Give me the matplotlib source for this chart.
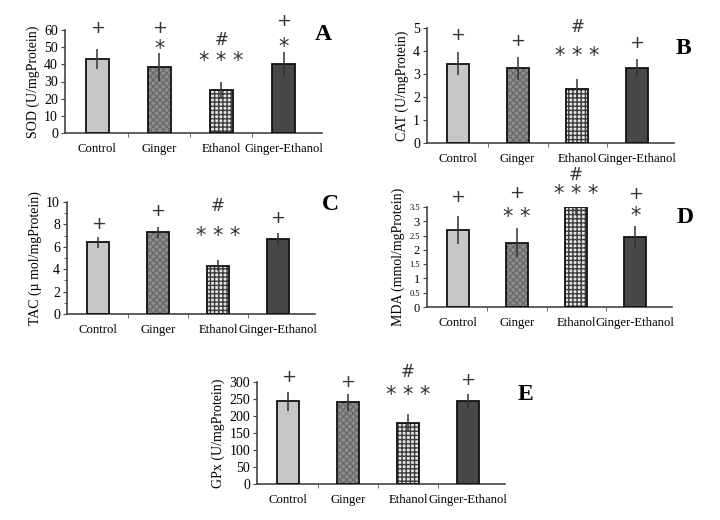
import numpy as np
import matplotlib
matplotlib.use('Agg')
import matplotlib.pyplot as plt

plt.rcParams['font.family'] = ['Liberation Serif', 'DejaVu Serif']

groups = ['Control', 'Ginger', 'Ethanol', 'Ginger-Ethanol']

# mean values and error
sod = [43, 38.5, 25, 40]
sod_err = [6, 8, 5, 7]
cat = [3.45, 3.25, 2.35, 3.25]
cat_err = [0.5, 0.5, 0.45, 0.4]
tac = [6.4, 7.3, 4.3, 6.7]
tac_err = [0.5, 0.5, 0.5, 0.5]
mda = [2.7, 2.25, 3.5, 2.45]
mda_err = [0.5, 0.5, 0.25, 0.4]
gpx = [243, 240, 180, 243]
gpx_err = [28, 25, 27, 22]

# significance marks above each bar: (text, y)
sod_marks = [[('+', 61)], [('+', 61), ('*', 49)], [('#', 54), ('***', 42)], [('+', 65), ('*', 50)]]
cat_marks = [[('+', 4.7)], [('+', 4.45)], [('#', 5.05), ('***', 3.8)], [('+', 4.35)]]
tac_marks = [[('+', 8.0)], [('+', 9.2)], [('#', 9.6), ('***', 7.0)], [('+', 8.6)]]
mda_marks = [[('+', 3.85)], [('+', 4.0), ('**', 3.15)], [('#', 4.62), ('***', 3.95)], [('+', 3.95), ('*', 3.2)]]
gpx_marks = [[('+', 315)], [('+', 300)], [('#', 328), ('***', 262)], [('+', 306)]]

face = ['#c6c6c6', '#8e8e8e', '#e4e4e4', '#484848']
hatch = [None, 'xxxxx', '++++', None]
hatch_col = ['#c6c6c6', '#6a6a6a', '#3c3c3c', '#484848']

W, H = 720, 520
fig = plt.figure(figsize=(7.2, 5.2), dpi=100)


def panel(x0, x1, ytop, ybot, vals, errs, marks, ymax, ticks, ticklabels, tick_fs,
          ylabel, letter, lx, ly, minor=None):
    ax = fig.add_axes([x0 / W, 1 - ybot / H, (x1 - x0) / W, (ybot - ytop) / H])
    x = np.arange(len(groups))
    for i in range(len(groups)):
        ax.bar(x[i], vals[i], width=0.37, color=face[i], hatch=hatch[i],
               edgecolor=hatch_col[i], linewidth=0, zorder=2)
        ax.bar(x[i], vals[i], width=0.37, facecolor='none',
               edgecolor='#111111', linewidth=1.3, zorder=3)
    ax.errorbar(x, vals, yerr=errs, fmt='none', ecolor='#333333',
                elinewidth=1.1, capsize=0, zorder=4)
    for i, mk in enumerate(marks):
        for txt, yy in mk:
            if '*' in txt:
                txt = ' '.join(txt)
                fs = 15
            elif txt == '#':
                fs = 12
            else:
                fs = 13
            ax.text(x[i], yy, txt, ha='center', va='center', fontsize=fs,
                    color='#333333', family=['DejaVu Sans'], zorder=5,
                    clip_on=False)
    ax.set_xlim(-0.52, 3.62)
    ax.set_ylim(0, ymax)
    ax.set_yticks(ticks)
    ax.set_yticklabels(ticklabels)
    for lab, fs in zip(ax.get_yticklabels(), tick_fs):
        lab.set_fontsize(fs)
    if minor is not None:
        ax.set_yticks(minor, minor=True)
        ax.tick_params(axis='y', which='minor', length=2, color='#444444')
    ax.set_xticks(x)
    ax.set_xticklabels(groups, fontsize=9.2)
    ax.set_xticks([0.5, 1.5, 2.5], minor=True)
    ax.tick_params(axis='x', which='major', length=0, pad=7)
    ax.tick_params(axis='x', which='minor', length=3, direction='out', color='#555555')
    ax.tick_params(axis='y', which='major', length=3, pad=2, color='#444444')
    ax.spines['top'].set_visible(False)
    ax.spines['right'].set_visible(False)
    ax.spines['left'].set_color('#444444')
    ax.spines['bottom'].set_color('#444444')
    ax.spines['left'].set_linewidth(1.2)
    ax.spines['bottom'].set_linewidth(1.2)
    ax.set_ylabel(ylabel, fontsize=10, labelpad=3)
    fig.text(lx / W, 1 - ly / H, letter, fontsize=17, fontweight='bold',
             ha='center', va='center')
    return ax


panel(65, 322, 30, 133, sod, sod_err, sod_marks, 60,
      [0, 10, 20, 30, 40, 50, 60], ['0', '10', '20', '30', '40', '50', '60'], [10] * 7,
      'SOD (U/mgProtein)', 'A', 323, 34)
panel(427, 674, 28, 143, cat, cat_err, cat_marks, 5,
      [0, 1, 2, 3, 4, 5], ['0', '1', '2', '3', '4', '5'], [10] * 6,
      'CAT (U/mgProtein)', 'B', 683, 48)
panel(67, 315, 202, 314, tac, tac_err, tac_marks, 10,
      [0, 2, 4, 6, 8, 10], ['0', '2', '4', '6', '8', '10'], [10] * 6,
      'TAC (\u00b5 mol/mgProtein)', 'C', 330, 205, minor=[1, 3, 5, 7, 9])
panel(427, 672, 207, 307, mda, mda_err, mda_marks, 3.5,
      [0, 0.5, 1, 1.5, 2, 2.5, 3, 3.5], ['0', '0.5', '1', '1.5', '2', '2.5', '3', '3.5'],
      [9, 6, 9, 6, 9, 6, 9, 6],
      'MDA (mmol/mgProtein)', 'D', 685, 217)
panel(257, 505, 382, 484, gpx, gpx_err, gpx_marks, 300,
      [0, 50, 100, 150, 200, 250, 300], ['0', '50', '100', '150', '200', '250', '300'], [10] * 7,
      'GPx (U/mgProtein)', 'E', 525, 394)

fig.savefig('out.png', dpi=100, facecolor='white')
